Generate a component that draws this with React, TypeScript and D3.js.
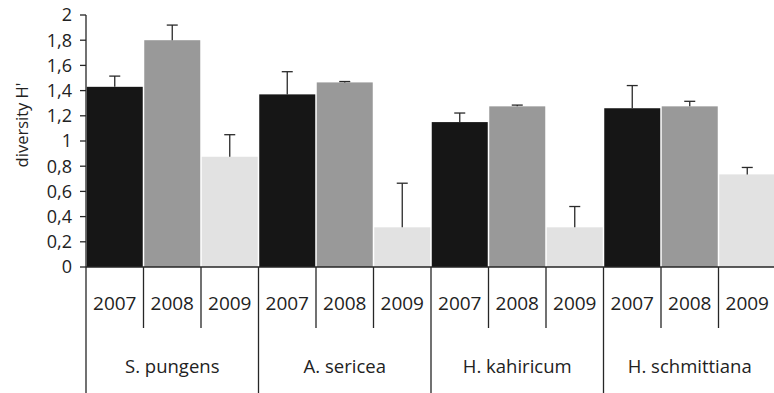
import React from "react";
import * as d3 from "d3";

const species = ["S. pungens", "A. sericea", "H. kahiricum", "H. schmittiana"];
const years = ["2007", "2008", "2009"];
const yearColors = ["#161616", "#999999", "#e2e2e2"];

// mean diversity H' per species, in year order
const meanH = [
  [1.43, 1.8, 0.875],
  [1.37, 1.465, 0.315],
  [1.15, 1.275, 0.315],
  [1.26, 1.275, 0.735],
];
// upper end of the error bar
const upperH = [
  [1.515, 1.92, 1.05],
  [1.55, 1.472, 0.665],
  [1.222, 1.285, 0.48],
  [1.44, 1.315, 0.79],
];
const yTicks = [0, 0.2, 0.4, 0.6, 0.8, 1, 1.2, 1.4, 1.6, 1.8, 2];

const W = 774;
const H = 393;
const left = 86;
const right = 776;
const y0 = 267;
const yTop = 15;
const font = "'Open Sans', sans-serif";
const ink = "#222";

export default function App() {
  const cells = species.flatMap((s, i) =>
    years.map((yr, j) => ({ s, i, yr, j, key: `${s}-${yr}`, v: meanH[i][j], e: upperH[i][j] }))
  );
  const x = d3.scaleBand<string>().domain(cells.map((c) => c.key)).range([left, right]).padding(0);
  const y = d3.scaleLinear().domain([0, 2]).range([y0, yTop]);
  const bw = x.bandwidth();
  const fmt = (v: number) => d3.format("~g")(v).replace(".", ",");

  return (
    <svg
      width={W}
      height={H}
      style={{ position: "absolute", left: 0, top: 0, display: "block", background: "#fff" }}
    >
      {/* bars */}
      {cells.map((c) => (
        <rect
          key={c.key}
          x={(x(c.key) as number) + 0.75}
          y={y(c.v)}
          width={bw - 1.5}
          height={y0 - y(c.v)}
          fill={yearColors[c.j]}
        />
      ))}
      {/* error bars */}
      {cells.map((c) => {
        const cx = (x(c.key) as number) + bw / 2;
        return (
          <g key={"e" + c.key} stroke="#2a2a2a" strokeWidth={1.3}>
            <line x1={cx} x2={cx} y1={y(c.v)} y2={y(c.e)} />
            <line x1={cx - 5.5} x2={cx + 5.5} y1={y(c.e)} y2={y(c.e)} />
          </g>
        );
      })}
      {/* y axis */}
      <line x1={left} x2={left} y1={yTop} y2={y0} stroke="#262626" strokeWidth={1.3} />
      {yTicks.map((t) => (
        <g key={t}>
          <line x1={left - 6} x2={left} y1={y(t)} y2={y(t)} stroke="#262626" strokeWidth={1.3} />
          <text
            x={72}
            y={y(t)}
            dy="0.36em"
            textAnchor="end"
            fontFamily={font}
            fontSize={18}
            fill={ink}
          >
            {fmt(t)}
          </text>
        </g>
      ))}
      <text
        transform={`translate(28,125) rotate(-90)`}
        textAnchor="middle"
        fontFamily={font}
        fontSize={16.5}
        fill={ink}
      >
        diversity H'
      </text>
      {/* x axis baseline */}
      <line x1={left} x2={right} y1={y0} y2={y0} stroke="#262626" strokeWidth={1.3} />
      {/* year separators and labels */}
      {cells.map((c) => {
        const x0 = x(c.key) as number;
        return (
          <g key={"yr" + c.key}>
            {c.j > 0 && (
              <line x1={x0} x2={x0} y1={y0} y2={328} stroke="#262626" strokeWidth={1.3} />
            )}
            <text
              x={x0 + bw / 2}
              y={310}
              textAnchor="middle"
              fontFamily={font}
              fontSize={19}
              fill={ink}
            >
              {c.yr}
            </text>
          </g>
        );
      })}
      {/* species separators and labels */}
      {species.map((s, i) => {
        const x0 = x(`${s}-${years[0]}`) as number;
        return (
          <g key={s}>
            <line x1={x0} x2={x0} y1={y0} y2={H} stroke="#262626" strokeWidth={1.3} />
            <text
              x={x0 + (bw * 3) / 2}
              y={373}
              textAnchor="middle"
              fontFamily={font}
              fontSize={18.5}
              fill={ink}
            >
              {s}
            </text>
          </g>
        );
      })}
    </svg>
  );
}
